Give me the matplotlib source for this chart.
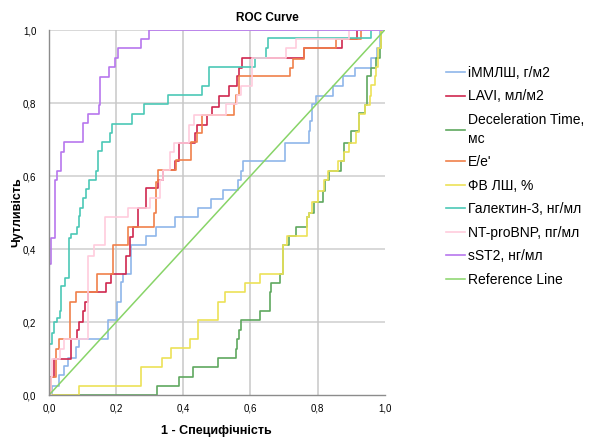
import matplotlib
matplotlib.use("Agg")
import matplotlib.pyplot as plt
from matplotlib.ticker import FuncFormatter

plt.rcParams['font.family'] = ['Liberation Sans', 'DejaVu Sans']

# ROC corner points (fpr, tpr), drawn as post-steps
immlsh_fpr = [0, 0.009, 0.03, 0.045, 0.058, 0.08, 0.09, 0.175, 0.203, 0.214, 0.221, 0.244, 0.289, 0.319,
              0.374, 0.444, 0.482, 0.517, 0.564, 0.571, 0.579, 0.704, 0.774, 0.778, 0.784, 0.796, 0.847,
              0.877, 0.913, 0.960, 0.977, 0.985, 1]
immlsh_tpr = [0, 0.026, 0.054, 0.081, 0.101, 0.131, 0.154, 0.207, 0.256, 0.309, 0.332, 0.410, 0.437, 0.460,
              0.488, 0.512, 0.537, 0.563, 0.590, 0.615, 0.642, 0.690, 0.722, 0.75, 0.797, 0.818, 0.846,
              0.873, 0.897, 0.923, 0.951, 1.0, 1.0]

lavi_fpr = [0, 0.004, 0.015, 0.065, 0.082, 0.088, 0.1, 0.107, 0.115, 0.170, 0.185, 0.23, 0.241, 0.25, 0.264,
            0.289, 0.324, 0.341, 0.375, 0.388, 0.434, 0.44, 0.472, 0.487, 0.506, 0.536, 0.561, 0.566, 0.576,
            0.761, 0.873, 0.917, 1]
lavi_tpr = [0, 0.049, 0.100, 0.154, 0.177, 0.2, 0.229, 0.255, 0.282, 0.307, 0.332, 0.382, 0.433, 0.46, 0.512,
            0.566, 0.59, 0.617, 0.640, 0.69, 0.718, 0.741, 0.768, 0.79, 0.818, 0.846, 0.873, 0.897, 0.923,
            0.95, 0.975, 1.0, 1.0]

dt_fpr = [0, 0.321, 0.386, 0.43, 0.504, 0.557, 0.561, 0.566, 0.572, 0.629, 0.657, 0.662, 0.688, 0.698, 0.716,
          0.736, 0.768, 0.774, 0.788, 0.816, 0.822, 0.835, 0.87, 0.88, 0.9, 0.925, 0.94, 0.947, 0.96, 0.975,
          0.985, 0.99, 1]
dt_tpr = [0, 0.025, 0.05, 0.077, 0.102, 0.127, 0.154, 0.179, 0.205, 0.230, 0.282, 0.308, 0.332, 0.41, 0.436,
          0.46, 0.488, 0.50, 0.53, 0.56, 0.59, 0.613, 0.64, 0.69, 0.722, 0.773, 0.795, 0.873, 0.897, 0.923,
          0.95, 1.0, 1.0]

ee_fpr = [0, 0.005, 0.02, 0.022, 0.03, 0.063, 0.08, 0.144, 0.19, 0.234, 0.312, 0.319, 0.324, 0.378, 0.422,
          0.44, 0.457, 0.551, 0.556, 0.566, 0.718, 0.728, 0.761, 0.855, 0.93, 1]
ee_tpr = [0, 0.05, 0.10, 0.127, 0.154, 0.255, 0.282, 0.332, 0.41, 0.46, 0.50, 0.584, 0.616, 0.644, 0.692,
          0.718, 0.768, 0.797, 0.823, 0.873, 0.895, 0.92, 0.95, 0.975, 1.0, 1.0]

fv_fpr = [0, 0.09, 0.274, 0.338, 0.364, 0.42, 0.444, 0.504, 0.524, 0.584, 0.63, 0.698, 0.708, 0.768, 0.774,
          0.784, 0.80, 0.82, 0.83, 0.86, 0.88, 0.895, 0.915, 0.925, 0.94, 0.955, 0.96, 0.97, 0.975, 0.98,
          0.99, 1]
fv_tpr = [0, 0.025, 0.078, 0.101, 0.129, 0.153, 0.205, 0.256, 0.282, 0.308, 0.332, 0.41, 0.436, 0.488, 0.50,
          0.53, 0.56, 0.59, 0.615, 0.64, 0.665, 0.69, 0.72, 0.77, 0.795, 0.82, 0.85, 0.875, 0.9, 0.95,
          1.0, 1.0]

gal_fpr = [0, 0, 0.008, 0.016, 0.023, 0.034, 0.036, 0.048, 0.061, 0.066, 0.083, 0.09, 0.093, 0.100, 0.110,
           0.120, 0.140, 0.145, 0.157, 0.183, 0.188, 0.247, 0.284, 0.355, 0.457, 0.477, 0.614, 0.646, 0.651,
           0.960, 1]
gal_tpr = [0, 0.14, 0.17, 0.2, 0.21, 0.23, 0.30, 0.32, 0.43, 0.44, 0.46, 0.49, 0.512, 0.540, 0.564, 0.590,
           0.615, 0.668, 0.692, 0.718, 0.743, 0.770, 0.797, 0.823, 0.846, 0.899, 0.923, 0.951, 0.977, 1.0, 1.0]

bnp_fpr = [0, 0.006, 0.01, 0.034, 0.045, 0.115, 0.135, 0.168, 0.234, 0.302, 0.33, 0.34, 0.36, 0.373, 0.418,
           0.432, 0.527, 0.560, 0.571, 0.606, 0.705, 0.736, 0.895, 1]
bnp_tpr = [0, 0.05, 0.10, 0.127, 0.154, 0.382, 0.41, 0.488, 0.512, 0.54, 0.59, 0.616, 0.667, 0.69, 0.741,
           0.768, 0.797, 0.823, 0.846, 0.923, 0.95, 0.976, 1.0, 1.0]

sst2_fpr = [0, 0, 0.007, 0.017, 0.023, 0.036, 0.046, 0.100, 0.115, 0.148, 0.152, 0.178, 0.198, 0.205, 0.274,
            0.297, 1]
sst2_tpr = [0, 0.36, 0.43, 0.59, 0.615, 0.667, 0.692, 0.744, 0.769, 0.795, 0.872, 0.9, 0.924, 0.95, 0.975,
            1.0, 1.0]

labels = ['iММЛШ, г/м2', 'LAVI, мл/м2', 'Deceleration Time,\nмс', "E/e'", 'ФВ ЛШ, %',
          'Галектин-3, нг/мл', 'NT-proBNP, пг/мл', 'sST2, нг/мл', 'Reference Line']
colors = ['#8fb6ea', '#d0284f', '#5fa85f', '#f0804a', '#ece257', '#4cc8b6', '#ffccdd', '#b777ee', '#88d468']

series = [(immlsh_fpr, immlsh_tpr), (lavi_fpr, lavi_tpr), (dt_fpr, dt_tpr), (ee_fpr, ee_tpr),
          (fv_fpr, fv_tpr), (gal_fpr, gal_tpr), (bnp_fpr, bnp_tpr), (sst2_fpr, sst2_tpr)]

fig = plt.figure(figsize=(6.14, 4.38), dpi=100)
ax = fig.add_axes([0.0798, 0.098, 0.5467, 0.8335])

ticks = [0, 0.2, 0.4, 0.6, 0.8, 1.0]
for t in ticks[1:]:
    ax.axhline(t, color='#d6d6d6', lw=1.3, zorder=0)
for t in ticks[1:-1]:
    ax.axvline(t, color='#c8c8c8', lw=1.1, zorder=0)

for (x, y), lab, c in zip(series, labels, colors):
    ax.step(x, y, where='post', color=c, lw=1.2, label=lab)
ax.plot([0, 1], [0, 1], color=colors[-1], lw=1.1, label=labels[-1])

ax.set_xlim(0, 1)
ax.set_ylim(0, 1)
ax.set_xticks(ticks)
ax.set_yticks(ticks)
fmt = FuncFormatter(lambda v, p: f'{v:.1f}'.replace('.', ','))
ax.xaxis.set_major_formatter(fmt)
ax.yaxis.set_major_formatter(fmt)
ax.tick_params(axis='x', length=0, labelsize=7, pad=6)
ax.tick_params(axis='y', length=0, labelsize=7, pad=9)
for s in ['top', 'right']:
    ax.spines[s].set_visible(False)
for s in ['left', 'bottom']:
    ax.spines[s].set_color('#8c8c8c')
    ax.spines[s].set_linewidth(1.0)

# title sits right of the axes centre, as in the original
fig.text(267 / 614, 1 - 18 / 438, 'ROC Curve', fontsize=8.5, fontweight='bold', ha='center', va='center')
ax.set_xlabel('1 - Специфічність', fontsize=9, fontweight='bold')
ax.set_ylabel('Чутливість', fontsize=9, fontweight='bold')
ax.xaxis.set_label_coords(0.5, -0.083)
ax.yaxis.set_label_coords(-0.077, 0.5)

leg = fig.legend(loc='upper left', bbox_to_anchor=(0.717, 0.862), frameon=False, fontsize=10,
                 handlelength=1.4, handletextpad=0.2, labelspacing=0.68, borderaxespad=0)
leg.get_texts()[2].set_linespacing(1.45)

fig.savefig('out.png', dpi=100)
